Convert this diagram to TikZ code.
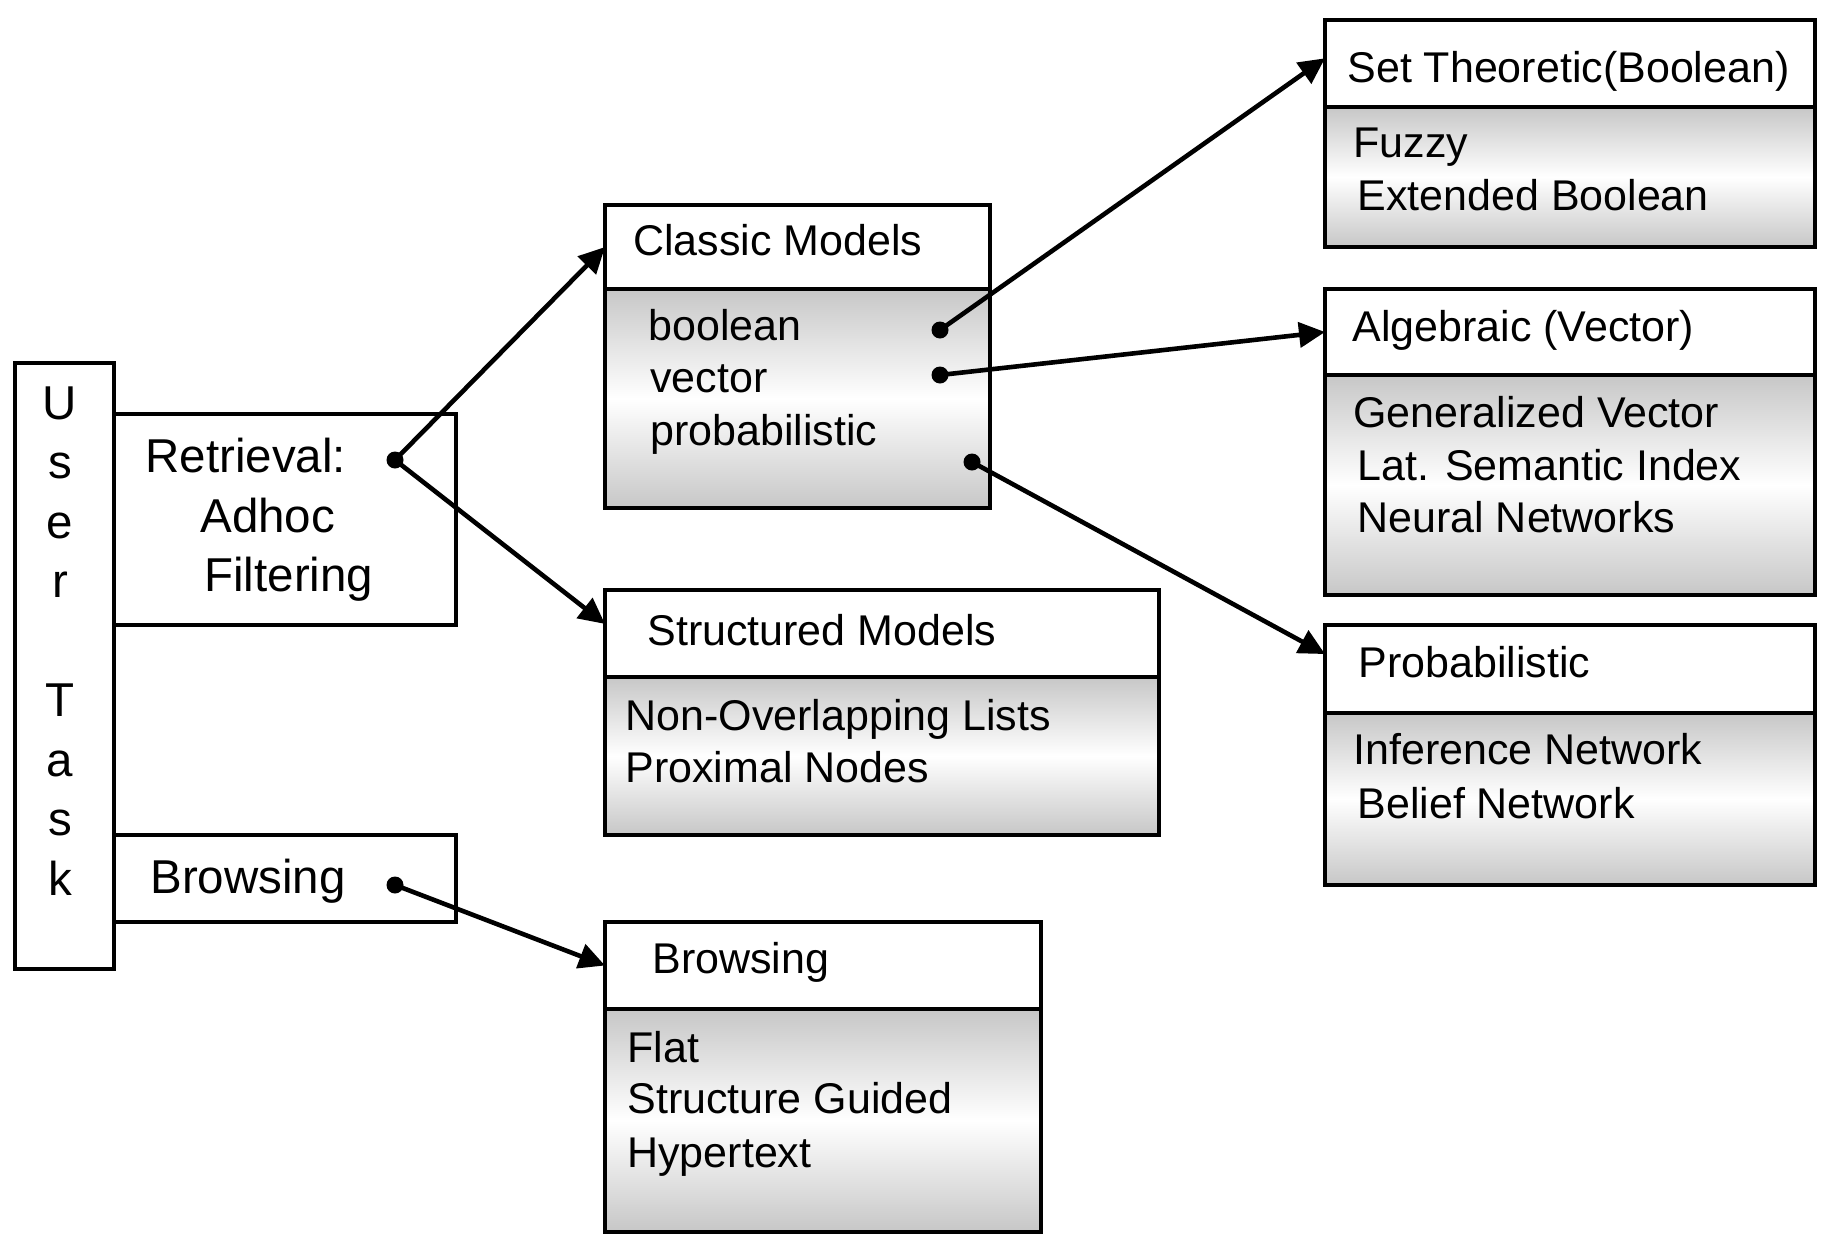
\documentclass[tikz,border=0pt]{standalone}
\usepackage{fontspec}
\setmainfont{Liberation Sans}
\usetikzlibrary{arrows.meta,calc}
\begin{document}
\begin{tikzpicture}[x=0.5pt,y=-0.5pt,
  base/.style={draw, line width=1.7pt, rectangle, anchor=north west, inner sep=0pt, outer sep=0pt},
  tbox/.style={base, fill=white},
  gbox/.style={base, top color=black!22, bottom color=black!22, middle color=white},
  lbl/.style={anchor=base west, inner sep=0pt, font=\fontsize{21.5}{26}\selectfont},
  big/.style={anchor=base west, inner sep=0pt, font=\fontsize{23.75}{28}\selectfont},
  letter/.style={anchor=base, inner sep=0pt, font=\fontsize{23.75}{28}\selectfont},
  dot/.style={circle, fill=black, inner sep=0pt, minimum size=8.5pt},
  conn/.style={line width=2.3pt, -{Triangle[length=13pt,width=12.5pt]}}
]
\useasboundingbox (0,0) rectangle (1826,1248);

% left column
\node[tbox, minimum width=49.5pt, minimum height=303pt] (ut) at (15,363) {};
\node[tbox, minimum width=171pt, minimum height=105.5pt] (ret) at (114,414) {};
\node[tbox, minimum width=171pt, minimum height=43.5pt] (brl) at (114,835) {};
\foreach \c/\yy [count=\i] in {U/419,s/478,e/538,r/597,T/716,a/776,s/835,k/895}
  \node[letter] (ut\i) at (60,\yy) {\c};
\node[big] (retA) at (145,472) {Retrieval:};
\node[big] (retB) at (200,532) {Adhoc};
\node[big] (retC) at (204,591) {Filtering};
\node[big] (brlA) at (150,893) {Browsing};

% Classic Models
\node[tbox, minimum width=192.5pt, minimum height=42pt] (clsT) at (605,205) {};
\node[gbox, minimum width=192.5pt, minimum height=109.5pt] (clsB) at (605,289) {};
\node[lbl] (clsA) at (633,255) {Classic Models};
\node[lbl] (clsB1) at (648,340) {boolean};
\node[lbl] (clsB2) at (650,392) {vector};
\node[lbl] (clsB3) at (650,445) {probabilistic};

% Structured Models
\node[tbox, minimum width=277pt, minimum height=43.5pt] (stT) at (605,590) {};
\node[gbox, minimum width=277pt, minimum height=79pt] (stB) at (605,677) {};
\node[lbl] (stA) at (647,645) {Structured Models};
\node[lbl] (stB1) at (625,730) {Non-Overlapping Lists};
\node[lbl] (stB2) at (625,782) {Proximal Nodes};

% Browsing (right)
\node[tbox, minimum width=218pt, minimum height=43.5pt] (brT) at (605,922) {};
\node[gbox, minimum width=218pt, minimum height=111.5pt] (brB) at (605,1009) {};
\node[lbl] (brA) at (652,973) {Browsing};
\node[lbl] (brB1) at (627,1062) {Flat};
\node[lbl] (brB2) at (627,1113) {Structure Guided};
\node[lbl] (brB3) at (627,1167) {Hypertext};

% Set Theoretic
\node[tbox, minimum width=245pt, minimum height=43.5pt] (setT) at (1325,20) {};
\node[gbox, minimum width=245pt, minimum height=70pt] (setB) at (1325,107) {};
\node[lbl] (setA) at (1347,82) {Set Theoretic(Boolean)};
\node[lbl] (setB1) at (1353,157) {Fuzzy};
\node[lbl] (setB2) at (1357,210) {Extended Boolean};

% Algebraic
\node[tbox, minimum width=245pt, minimum height=43pt] (algT) at (1325,289) {};
\node[gbox, minimum width=245pt, minimum height=110pt] (algB) at (1325,375) {};
\node[lbl] (algA) at (1352,341) {Algebraic (Vector)};
\node[lbl] (algB1) at (1353,427) {Generalized Vector};
\node[lbl] (algB2) at (1357,480) {Lat. Semantic Index};
\node[lbl] (algB3) at (1357,532) {Neural Networks};

% Probabilistic
\node[tbox, minimum width=245pt, minimum height=44pt] (prT) at (1325,625) {};
\node[gbox, minimum width=245pt, minimum height=86pt] (prB) at (1325,713) {};
\node[lbl] (prA) at (1358,677) {Probabilistic};
\node[lbl] (prB1) at (1353,764) {Inference Network};
\node[lbl] (prB2) at (1357,818) {Belief Network};

% dots
\node[dot] (dR) at (395,460) {};
\node[dot] (dB) at (395,885) {};
\node[dot] (dBool) at (940,330) {};
\node[dot] (dVec) at (940,375) {};
\node[dot] (dProb) at (972,462) {};

% connectors
\draw[conn] (dR.center) -- (clsT.west);
\draw[conn] (dR.center) -- ($(stT.north west)!0.39!(stT.south west)$);
\draw[conn] (dB.center) -- (brT.west);
\draw[conn] (dBool.center) -- ($(setT.north west)!0.44!(setT.south west)$);
\draw[conn] (dVec.center) -- (algT.west);
\draw[conn] (dProb.center) -- ($(prT.north west)!0.33!(prT.south west)$);
\end{tikzpicture}
\end{document}
